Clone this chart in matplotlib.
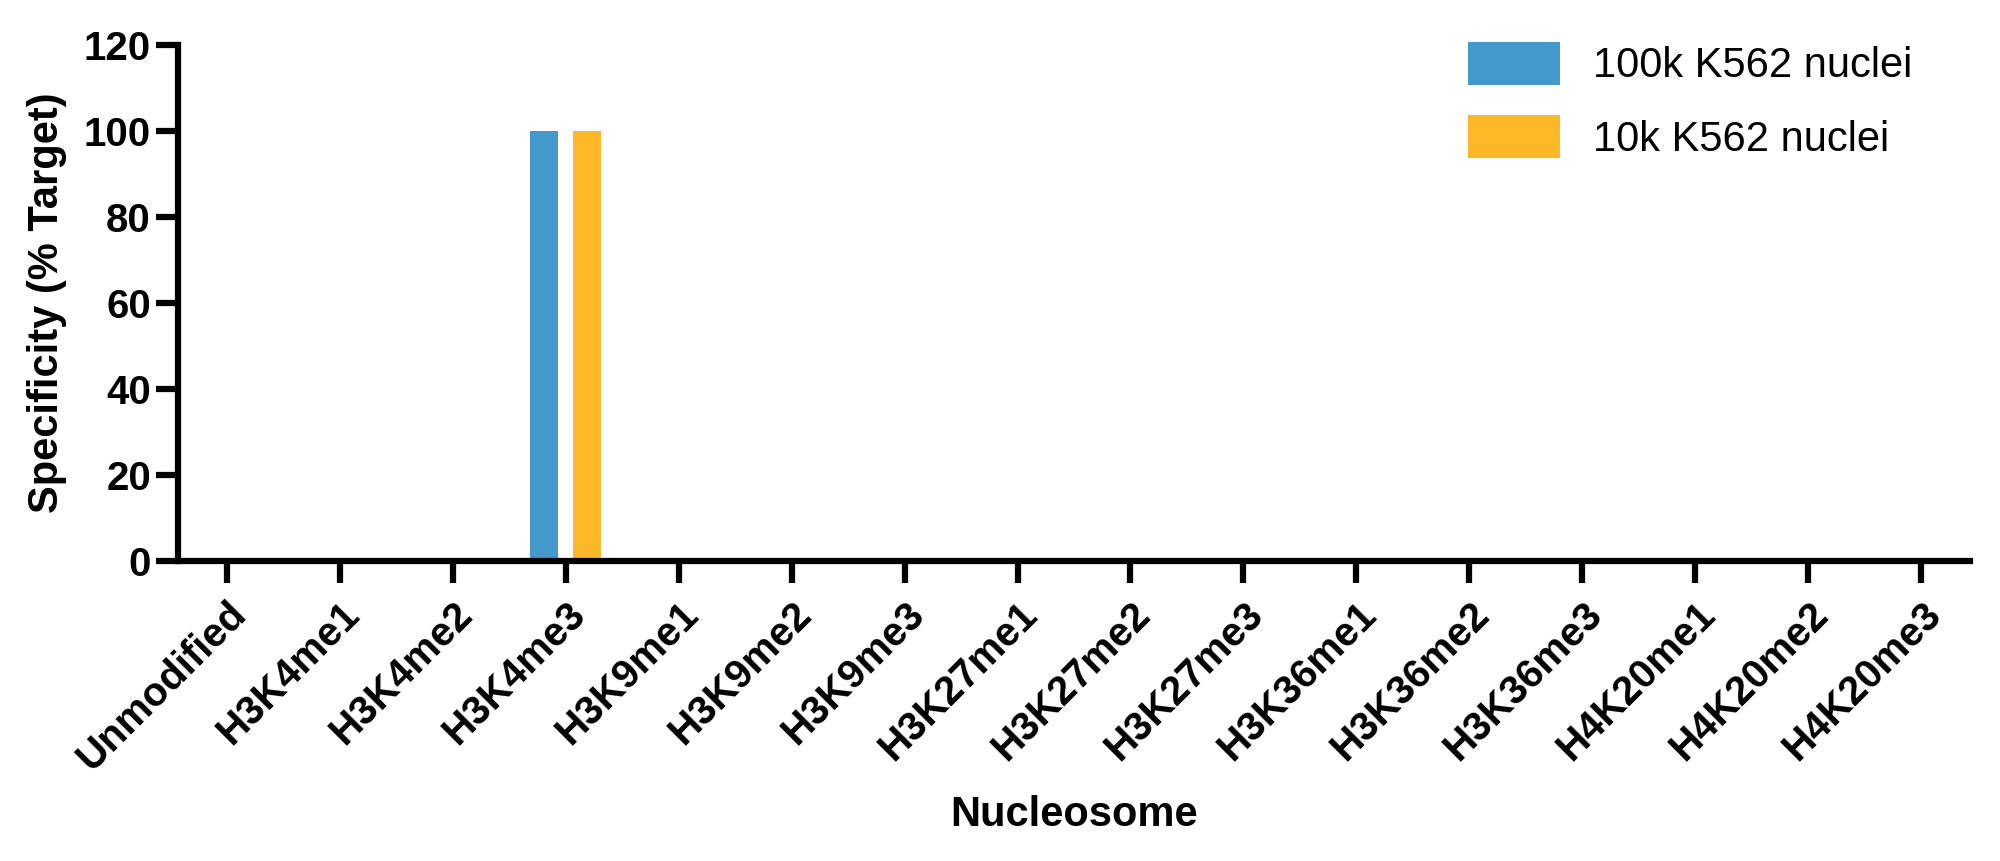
import numpy as np
import matplotlib.pyplot as plt

plt.rcParams["font.family"] = "Liberation Sans"

nucleosomes = ["Unmodified", "H3K4me1", "H3K4me2", "H3K4me3", "H3K9me1", "H3K9me2",
               "H3K9me3", "H3K27me1", "H3K27me2", "H3K27me3", "H3K36me1", "H3K36me2",
               "H3K36me3", "H4K20me1", "H4K20me2", "H4K20me3"]
k562_100k = [0, 0, 0, 100, 0, 0, 0, 0, 0, 0, 0, 0, 0, 0, 0, 0]
k562_10k = [0, 0, 0, 100, 0, 0, 0, 0, 0, 0, 0, 0, 0, 0, 0, 0]

fig = plt.figure(figsize=(20, 8.61), dpi=100)
ax = fig.add_axes([0.089, 0.348, 0.896, 0.600])

x = np.arange(len(nucleosomes))
ax.bar(x - 0.19, k562_100k, width=0.25, color="#4499CC", label="100k K562 nuclei")
ax.bar(x + 0.19, k562_10k, width=0.25, color="#FDB827", label="10k K562 nuclei")

ax.set_xlim(-0.43, 15.43)
ax.set_ylim(0, 120)
ax.set_yticks(range(0, 121, 20))
ax.set_xticks(x)
ax.set_xticklabels(nucleosomes, rotation=45, ha="right", rotation_mode="anchor",
                   fontsize=29, fontweight="bold")
for lab in ax.get_yticklabels():
    lab.set_fontsize(29)
    lab.set_fontweight("bold")
ax.tick_params(axis="both", width=4.5, length=16)
ax.tick_params(axis="x", pad=8)
for s in ["top", "right"]:
    ax.spines[s].set_visible(False)
for s in ["left", "bottom"]:
    ax.spines[s].set_linewidth(4.5)

ax.set_ylabel("Specificity (% Target)", fontsize=30, fontweight="bold", labelpad=12)
ax.set_xlabel("Nucleosome", fontsize=30, fontweight="bold", labelpad=12)

fig.legend(loc="upper right", bbox_to_anchor=(0.975, 0.995), frameon=False,
           fontsize=30, handlelength=2.2, handleheight=1.2, labelspacing=0.7,
           handletextpad=0.8)

fig.savefig("out.png")
